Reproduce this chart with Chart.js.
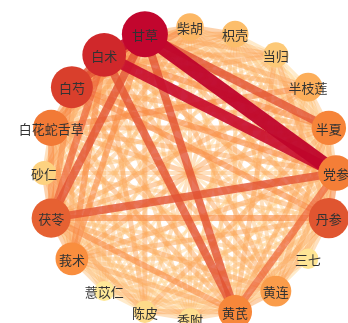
<!DOCTYPE html>
<html><head><meta charset="utf-8">
<script src="https://cdn.jsdelivr.net/npm/chart.js@4/dist/chart.umd.min.js"></script>
<style>html,body{margin:0;padding:0;background:#fff;overflow:hidden}</style>
</head><body>
<canvas id="c" width="348" height="323"></canvas>
<script>
// ---- data ----
const herbs = ['党参','半夏','半枝莲','当归','枳壳','柴胡','甘草','白术','白芍','白花蛇舌草',
               '砂仁','茯苓','莪术','薏苡仁','陈皮','香附','黄芪','黄连','三七','丹参'];
const herbValues = [64,60,40,28,33,36,100,92,86,66,24,76,54,10,18,16,58,48,12,80];
// upper triangle of co-occurrence strength (row i, columns i+1..n-1), levels 0-9
const edgeWeights = [
  [2,2,2,2,2,9,8,4,3,2,6,3,1,2,1,5,3,1,4],
  [2,1,2,2,6,4,3,3,2,3,2,1,3,1,3,3,1,3],
  [1,1,1,3,3,2,4,1,3,3,2,1,1,2,2,1,2],
  [1,2,3,3,3,1,1,2,2,1,1,2,3,1,1,3],
  [3,3,3,3,2,2,2,2,1,2,2,2,2,1,2],
  [3,3,4,2,1,3,2,1,2,2,2,2,1,2],
  [8,6,4,3,6,4,2,3,2,6,3,2,3],
  [6,4,3,5,4,2,3,2,6,3,2,3],
  [3,2,4,3,2,2,2,3,3,1,4],
  [2,4,3,2,2,1,3,2,1,3],
  [3,2,1,2,1,2,1,1,2],
  [3,2,3,2,4,3,2,4],
  [2,2,2,3,2,2,3],
  [1,1,2,1,1,2],
  [2,3,1,1,2],
  [2,1,1,2],
  [3,2,3],
  [1,3],
  [2]
];

// ---- styles ----
const nodeStops = [[10,'#fee898'],[25,'#fdd07e'],[40,'#fcae5a'],[55,'#f98c3c'],[70,'#f07434'],[80,'#e05530'],[90,'#d4302a'],[100,'#c2062e']];
function hex(c){return [parseInt(c.slice(1,3),16),parseInt(c.slice(3,5),16),parseInt(c.slice(5,7),16)];}
function nodeColor(v){
  for(let k=1;k<nodeStops.length;k++){
    if(v<=nodeStops[k][0]){
      const [v0,c0]=nodeStops[k-1],[v1,c1]=nodeStops[k];
      const t=(v-v0)/(v1-v0),a=hex(c0),b=hex(c1);
      return 'rgb('+a.map((x,i)=>Math.round(x+(b[i]-x)*t)).join(',')+')';
    }
  }
  return nodeStops[nodeStops.length-1][1];
}
const edgeStyle = {
  1:{w:3, c:'rgba(254,210,140,0.45)'},
  2:{w:4, c:'rgba(253,188,115,0.45)'},
  3:{w:5, c:'rgba(252,165,90,0.5)'},
  4:{w:6, c:'rgba(249,138,68,0.6)'},
  5:{w:7, c:'rgba(236,100,55,0.7)'},
  6:{w:8, c:'rgba(226,82,50,0.8)'},
  7:{w:9, c:'rgba(212,50,45,0.85)'},
  8:{w:11,c:'rgba(200,14,46,0.92)'},
  9:{w:15,c:'rgba(192,6,44,0.96)'}
};

// circular layout
const n = herbs.length;
const nodePts = herbs.map((h,i)=>({x:Math.cos(i*2*Math.PI/n), y:Math.sin(i*2*Math.PI/n)}));

const datasets = [{
  type:'scatter', label:'nodes', data:nodePts, order:0,
  pointRadius: herbValues.map(v=>10+13*(v-10)/90),
  pointHoverRadius: herbValues.map(v=>10+13*(v-10)/90),
  pointBackgroundColor: herbValues.map(nodeColor),
  pointBorderWidth:0, pointHoverBorderWidth:0, clip:false
}];
edgeWeights.forEach((row,i)=>{
  row.forEach((w,k)=>{
    const j=i+1+k;
    if(!w) return;
    const s=edgeStyle[w];
    datasets.push({type:'line', data:[nodePts[i],nodePts[j]], showLine:true, fill:false,
      borderWidth:s.w, borderColor:s.c, pointRadius:0, pointHoverRadius:0,
      borderCapStyle:'butt', order:100-w, clip:false, tension:0});
  });
});

const labelPlugin = {
  id:'labels',
  afterDatasetsDraw(chart){
    const ctx=chart.ctx, meta=chart.getDatasetMeta(0);
    ctx.save();
    ctx.font='13px "Noto Sans CJK SC"';
    ctx.textAlign='center'; ctx.textBaseline='middle';
    ctx.fillStyle='#333';
    meta.data.forEach((el,i)=>ctx.fillText(herbs[i], el.x, el.y+1));
    ctx.restore();
  }
};

const R=146, CX=190, CY=173, W=348, H=323;
new Chart(document.getElementById('c'),{
  type:'scatter',
  data:{datasets},
  options:{
    responsive:false, animation:false, events:[],
    layout:{padding:0, autoPadding:false},
    plugins:{legend:{display:false}, tooltip:{enabled:false}},
    scales:{
      x:{type:'linear', display:false, min:-CX/R, max:(W-CX)/R},
      y:{type:'linear', display:false, min:-(H-CY)/R, max:CY/R}
    }
  },
  plugins:[labelPlugin]
});
</script>
</body></html>
